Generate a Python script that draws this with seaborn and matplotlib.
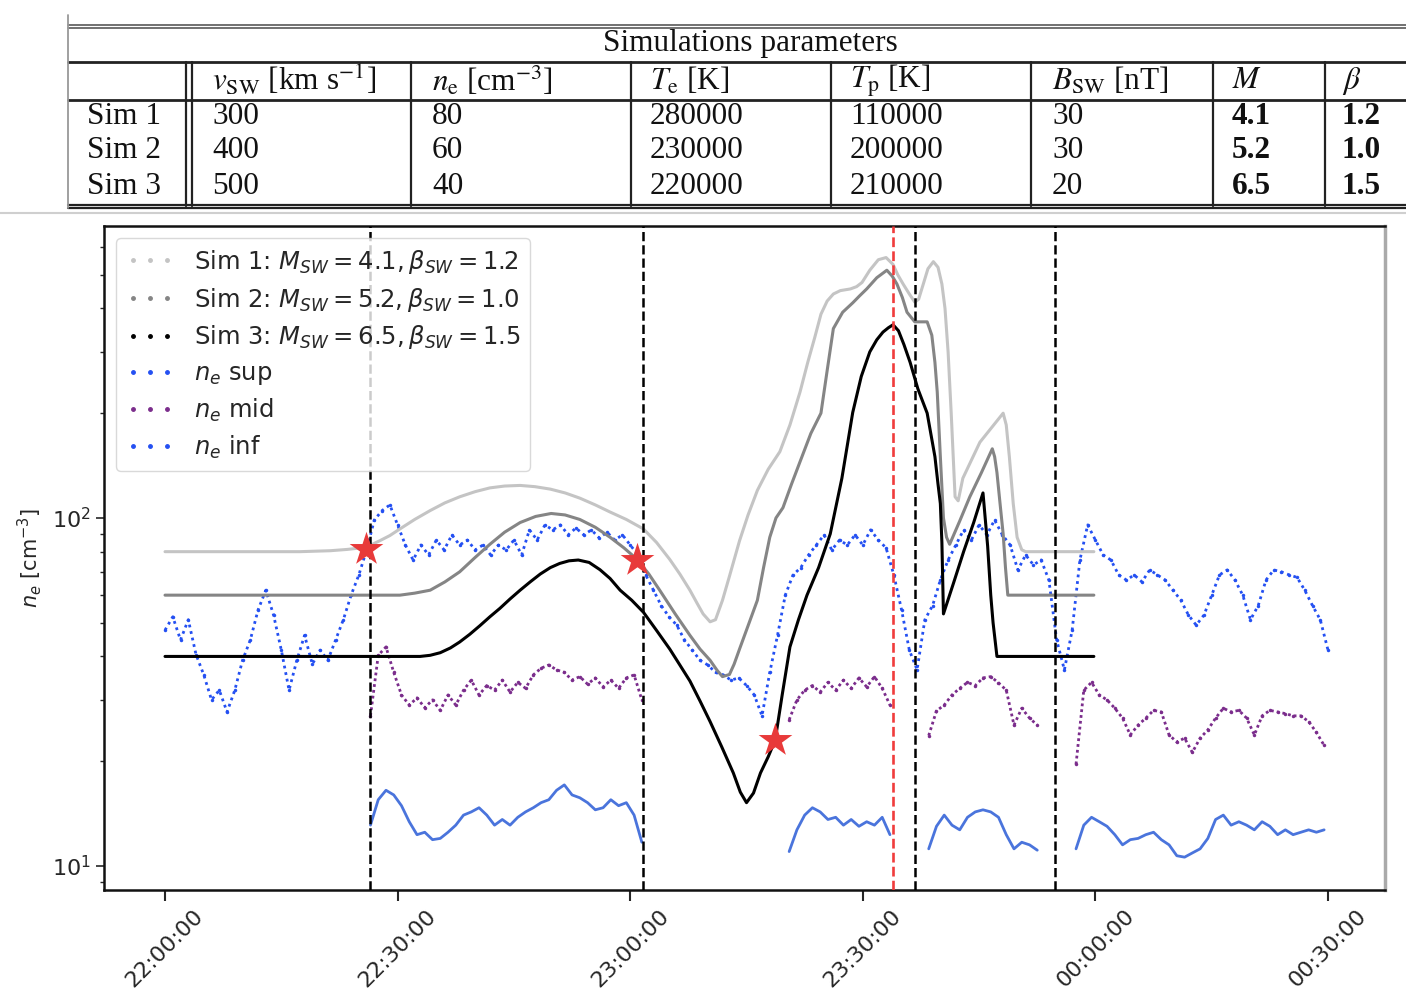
import numpy as np
import pandas as pd
import matplotlib
matplotlib.use('Agg')
import matplotlib.pyplot as plt
import matplotlib.dates as mdates
from matplotlib.lines import Line2D
import seaborn as sns

sns.set_style('ticks')
plt.rcParams['font.family'] = ['DejaVu Sans']

# ---- table content ----
table_title = 'Simulations parameters'
col_heads = [r'$v_{\rm SW}$ [km s$^{-1}$]', r'$n_{\rm e}$ [cm$^{-3}$]', r'$T_{\rm e}$ [K]',
             r'$T_{\rm p}$ [K]', r'$B_{\rm SW}$ [nT]', r'$M$', r'$\beta$']
row_names = ['Sim 1', 'Sim 2', 'Sim 3']
v_sw = ['300', '400', '500']
n_e = ['80', '60', '40']
T_e = ['280000', '230000', '220000']
T_p = ['110000', '200000', '210000']
B_sw = ['30', '30', '20']
mach = ['4.1', '5.2', '6.5']
beta = ['1.2', '1.0', '1.5']

# ---- simulation curves (minutes after 22:00, n_e in cm^-3) ----
sim1_t = [0, 17.4, 21.3, 23.5, 25.2, 26.5, 27.7, 29.0, 30.3, 32.2, 34.2, 36.1, 38.0, 40.0,
          41.9, 43.8, 45.8, 47.7, 49.7, 51.6, 53.5, 55.5, 57.4, 59.5, 61.7, 63.4, 65.1,
          66.4, 67.7, 68.6, 69.4, 70.3, 71.0, 71.9, 72.8, 74.1, 75.2, 76.4, 77.8, 79.3,
          80.6, 81.9, 82.9, 83.8, 84.6, 85.4, 86.2, 87.1, 88.4, 89.2, 89.9, 90.9, 92.0,
          93.0, 93.9, 94.5, 95.2, 96.0, 96.7, 97.2, 97.8, 98.4, 99.1, 99.7, 100.2, 100.6,
          101.0, 101.4, 101.9, 102.3, 102.9, 105.1, 108.1, 108.5, 108.9, 109.4, 109.9,
          110.5, 111.0, 119.8]
sim1_v = [80, 80, 80.5, 81.2, 82, 83.5, 86, 89, 93, 99, 105, 110.5, 115, 119,
          122, 123.5, 124, 123, 121, 118, 114, 109, 104, 99, 93, 85, 76,
          69, 62, 57, 53, 50.3, 51, 58, 68, 86, 102, 120, 138, 155,
          185, 230, 280, 330, 385, 420, 440, 450, 455, 462, 475, 515, 552,
          560, 535, 500, 470, 440, 417, 425, 470, 520, 545, 525, 470, 400,
          300, 200, 115, 112, 130, 165, 200, 185, 150, 110, 88,
          81, 80, 80]

sim2_t = [0, 30.3, 32.2, 34.2, 36.1, 38.0, 40.0, 41.9, 43.8, 45.8, 47.8, 49.8, 51.6, 53.5,
          55.5, 57.4, 59.2, 60.9, 62.4, 63.8, 65.8, 67.7, 69.0, 70.3, 71.2, 71.9, 72.8,
          73.4, 74.1, 75.2, 76.4, 77.2, 78.0, 78.8, 79.7, 80.8, 81.9, 83.3, 84.6, 85.4,
          86.2, 87.4, 88.7, 89.6, 90.5, 91.8, 93.1, 93.8, 94.4, 95.1, 95.7, 96.7, 98.3,
          98.9, 99.3, 99.6, 100.0, 100.4, 100.8, 101.2, 102.5, 103.8, 105.3, 106.7, 107.0,
          107.3, 107.7, 108.1, 108.4, 108.7, 119.8]
sim2_v = [60, 60, 60.8, 62, 65.5, 70, 77, 84, 91, 97, 101, 103, 102, 99,
          94, 88, 82, 76, 69, 62, 53, 46, 42, 39, 36.5, 35, 35.5,
          38, 42, 49, 58, 72, 88, 100, 107, 125, 145, 175, 200, 265,
          350, 390, 415, 435, 455, 490, 515, 495, 470, 430, 390, 366, 366,
          335, 280, 230, 150, 100, 88, 84, 98, 115, 135, 158, 150,
          135, 110, 90, 72, 60, 60]

sim3_t = [0, 32.9, 34.2, 35.5, 36.8, 38.0, 39.3, 40.6, 41.9, 43.2, 44.5, 45.8, 47.1, 48.4,
          49.7, 50.9, 52.1, 53.3, 54.7, 56.1, 57.4, 58.7, 60.2, 61.7, 63.4, 65.1, 66.4,
          67.7, 69.0, 70.3, 71.8, 73.3, 74.2, 75.0, 75.9, 76.8, 77.8, 78.7, 79.6, 80.6,
          81.7, 82.8, 84.3, 85.8, 87.3, 88.7, 89.8, 90.9, 91.8, 92.6, 93.3, 93.9, 94.6,
          95.3, 96.1, 97.1, 98.3, 99.3, 99.7, 100.0, 100.2, 100.4, 101.7, 103.0, 104.3,
          105.5, 106.1, 106.5, 106.8, 107.3, 119.8]
sim3_v = [40, 40, 40.3, 41, 42.3, 44, 46.3, 49, 52, 55, 58.5, 62, 65.5, 69,
          72, 74, 75.3, 75.7, 74.5, 71, 67, 62, 58, 53.6, 47.5, 42, 37.8,
          34, 29.8, 26, 22, 18.5, 16.3, 15.2, 16.2, 18.5, 20.6, 23, 31, 42.6,
          51, 60, 72, 90, 130, 201, 255, 300, 325, 342, 352, 359, 345,
          315, 280, 235, 200, 150, 125, 110, 85, 53, 65, 80, 97,
          118, 83, 60, 50, 40, 40]

# ---- observed densities, 1 min cadence ----
sup_start = 0
sup_v = [47.6, 52, 44.6, 51, 40.5, 35.4, 30, 32, 27.7, 32,
         39, 44.6, 54.4, 62, 52.6, 41.7, 32, 39, 46, 38,
         41.7, 39, 44.6, 51, 60, 68.6, 80.9, 98.7, 105, 109,
         95.5, 83.6, 75.7, 83.6, 78.3, 86.4, 80.9, 89.4, 83.6, 86.4,
         80.9, 83.6, 78.3, 83.6, 80.9, 86.4, 78.3, 92.4, 86.4, 95.5,
         92.4, 95.5, 89.4, 93.6, 89.4, 92.4, 87.6, 91, 86.4, 89.4,
         83.6, 78.3, 68.6, 62, 56, 52, 49.2, 44.6, 41.7, 39,
         37.8, 36, 35.4, 34.2, 34.7, 33, 31, 27, 36, 46,
         60, 68.6, 72, 78.3, 83.6, 89.4, 80.9, 86.4, 83.6, 89.4,
         83.6, 92.4, 86.4, 82, 68.6, 54.4, 41.7, 36.6, 51, 56,
         66.3, 75.7, 83.6, 92.4, 86.4, 95.5, 89.4, 98.7, 89.4, 83.6,
         70.9, 78.3, 73.3, 75.7, 66.3, 44.6, 36.6, 47.6, 75.7, 95.5,
         86.4, 78.3, 75.7, 68.6, 66.3, 68.6, 65.5, 70.9, 68.6, 66.3,
         62, 58.1, 52.6, 49.2, 52.6, 60, 68.6, 70.9, 66.3, 60,
         51, 56, 66.3, 70.9, 70, 68.6, 67.5, 62, 56, 51, 41.7]

mid_starts = [26.5, 80.5, 98.5, 117.5]
mid_segs = [
    [27, 40.3, 42.6, 36, 31, 29, 30.4, 28.5, 30, 28, 31, 29, 32, 34.2, 31, 33, 32, 34.2,
     31.6, 33.7, 32.4, 35.4, 37, 37.8, 36.6, 36, 34.2, 35, 33.3, 34.7, 32.7, 34.2, 32.4,
     34.7, 35.4, 30],
    [26.3, 30, 32, 33, 31.6, 33.7, 32, 34.2, 32.4, 34.7, 32.7, 35, 32.4, 29],
    [23.7, 27.9, 29, 31, 32.4, 33.7, 33, 34.7, 35, 33.6, 32, 25.4, 28.4, 26.6, 25.4],
    [19.6, 32, 33.7, 31, 30, 28.4, 26.6, 23.8, 25.4, 26.6, 28, 27.7, 23.8, 22.7, 23.3,
     21.2, 23.3, 24.6, 26.6, 28.4, 27.7, 28, 26.6, 23.8, 27, 28, 27.7, 27.4, 27, 27, 26,
     24.2, 22.2],
]

inf_starts = [26.5, 80.5, 98.5, 117.5]
inf_segs = [
    [13.1, 15.5, 16.5, 16, 14.9, 13.4, 12.3, 12.5, 11.9, 12, 12.5, 13.1, 14, 14.3, 14.7,
     14, 13.1, 13.6, 13.1, 13.8, 14.3, 14.7, 15.2, 15.5, 16.5, 17.1, 16, 15.7, 15.2, 14.5,
     14.7, 15.5, 14.9, 15.2, 14, 11.7],
    [11, 12.7, 14, 14.7, 14.3, 13.6, 13.8, 13.1, 13.6, 13, 13.4, 13.1, 13.8, 12.3],
    [11.2, 13, 14, 13.1, 12.7, 13.8, 14.3, 14.5, 14.3, 13.8, 12.3, 11.2, 11.7, 11.5, 11.1],
    [11.2, 13.1, 13.8, 13.4, 13, 12.3, 11.5, 11.9, 12, 12.3, 12.5, 11.9, 11.5, 10.7, 10.6,
     10.9, 11.2, 12, 13.6, 14, 13.1, 13.4, 13.1, 12.7, 13.4, 13, 12.3, 12.7, 12.3, 12.5,
     12.7, 12.5, 12.7],
]

# boundary crossings and marked points
vlines_black = [26.44, 61.65, 96.73, 114.8]
vline_red = 93.9
star_t = [25.9, 60.9, 78.7]
star_v = [81.5, 75.7, 23.0]

base = pd.Timestamp('2021-01-01 22:00:00')


def to_time(minutes):
    return base + pd.to_timedelta(np.asarray(minutes, dtype=float), unit='min')


def seg_times(start, values):
    return to_time(start + np.arange(len(values)))


c_sim = ['#c4c4c4', '#858585', '#000000']
c_sup = '#2450f2'
c_mid = '#7b2d8c'
c_inf = '#4a74dc'

fig = plt.figure(figsize=(14.06, 9.88), dpi=100)


def fx(px):
    return px / 1406


def fy(py):
    return 1 - py / 988


# ---- table drawn on the figure ----
def hline(y, x0=68, x1=1406, color='#222222', lw=1.6):
    fig.add_artist(Line2D([fx(x0), fx(x1)], [fy(y), fy(y)], color=color, lw=lw))


def vline(x, y0=62, y1=206, color='#222222', lw=1.6):
    fig.add_artist(Line2D([fx(x), fx(x)], [fy(y0), fy(y1)], color=color, lw=lw))


hline(25, color='#666666', lw=1.3)
hline(28.5, color='#666666', lw=1.3)
hline(62, lw=2.0)
hline(100, lw=2.0)
hline(205, lw=1.6)
hline(208.5, lw=1.6)
hline(213, x0=0, color='#cfcfcf', lw=1.5)
vline(68, y0=15, y1=208, color='#999999', lw=1.3)
for x in [186, 192, 411, 631, 831, 1031, 1213, 1325]:
    vline(x)

tkw = dict(fontsize=22.5, family='Liberation Serif', math_fontfamily='stix', va='center',
           color='#111111')
fig.text(fx(750), fy(43), table_title, ha='center', **tkw)
col_x = [212, 432, 650, 850, 1052, 1232, 1342]
for x, h in zip(col_x, col_heads):
    fig.text(fx(x), fy(81), h, ha='left', **tkw)
row_y = [116, 151, 187]
columns = [v_sw, n_e, T_e, T_p, B_sw, mach, beta]
for i, name in enumerate(row_names):
    fig.text(fx(87), fy(row_y[i]), name, ha='left', **tkw)
    for j, col in enumerate(columns):
        weight = 'bold' if j >= 5 else 'normal'
        fig.text(fx(col_x[j]), fy(row_y[i]), col[i], ha='left', fontweight=weight, **tkw)

# ---- density plot ----
ax = fig.add_axes([fx(104), fy(890), fx(1385) - fx(104), fy(226) - fy(890)])
ax.set_yscale('log')

for t, v, c in zip([sim1_t, sim2_t, sim3_t], [sim1_v, sim2_v, sim3_v], c_sim):
    sns.lineplot(x=to_time(t), y=v, color=c, lw=2.2, estimator=None, ax=ax, zorder=3)

sns.lineplot(x=seg_times(sup_start, sup_v), y=sup_v, color=c_sup, lw=2.0,
             linestyle=(0, (1, 1.4)), marker='.', markersize=5, markeredgewidth=0,
             estimator=None, ax=ax, zorder=2)
for s, v in zip(mid_starts, mid_segs):
    sns.lineplot(x=seg_times(s, v), y=v, color=c_mid, lw=2.0, linestyle=(0, (1, 1.1)),
                 marker='.', markersize=5, markeredgewidth=0, estimator=None, ax=ax, zorder=2)
for s, v in zip(inf_starts, inf_segs):
    sns.lineplot(x=seg_times(s, v), y=v, color=c_inf, lw=2.0, estimator=None, ax=ax, zorder=2)

for t in vlines_black:
    ax.axvline(to_time([t])[0], color='black', ls='--', lw=1.8, zorder=4)
ax.axvline(to_time([vline_red])[0], color='#f03c3c', ls='--', lw=1.9, zorder=4)

sns.scatterplot(x=to_time(star_t), y=star_v, marker='*', s=650, color='#e83a3a',
                linewidth=0, ax=ax, zorder=6)

ax.set_xlim(to_time([-7.87])[0], to_time([157.35])[0])
ax.set_ylim(8.53, 690)
ax.xaxis.set_major_locator(mdates.MinuteLocator(byminute=[0, 30]))
ax.xaxis.set_major_formatter(mdates.DateFormatter('%H:%M:%S'))
ax.tick_params(axis='x', labelrotation=45, labelsize=16, length=8, width=1.5)
ax.tick_params(axis='y', which='major', labelsize=16, length=6, width=1.2)
ax.tick_params(axis='y', which='minor', length=3, width=1.0)
ax.set_xlabel('')
ax.set_ylabel(r'$n_e$ [cm$^{-3}$]', fontsize=15, labelpad=6)
for side in ['left', 'top', 'bottom']:
    ax.spines[side].set_linewidth(1.8)
    ax.spines[side].set_color('#111111')
ax.spines['right'].set_linewidth(2.5)
ax.spines['right'].set_color('#aaaaaa')

handles = [
    Line2D([], [], ls='none', marker='.', color=c_sim[0], markersize=5),
    Line2D([], [], ls='none', marker='.', color=c_sim[1], markersize=5),
    Line2D([], [], ls='none', marker='.', color=c_sim[2], markersize=5),
    Line2D([], [], ls='none', marker='.', color=c_sup, markersize=5),
    Line2D([], [], ls='none', marker='.', color=c_mid, markersize=5),
    Line2D([], [], ls='none', marker='.', color=c_sup, markersize=5),
]
labels = [r'Sim 1: $M_{SW} = 4.1, \beta_{SW} = 1.2$',
          r'Sim 2: $M_{SW} = 5.2, \beta_{SW} = 1.0$',
          r'Sim 3: $M_{SW} = 6.5, \beta_{SW} = 1.5$',
          r'$n_e$ sup', r'$n_e$ mid', r'$n_e$ inf']
leg = ax.legend(handles, labels, loc='upper left', fontsize=17.5, numpoints=3,
                handletextpad=0.8, labelspacing=0.4, frameon=True, fancybox=True)
leg.get_frame().set_edgecolor('#d0d0d0')

fig.savefig('out.png', dpi=100)
